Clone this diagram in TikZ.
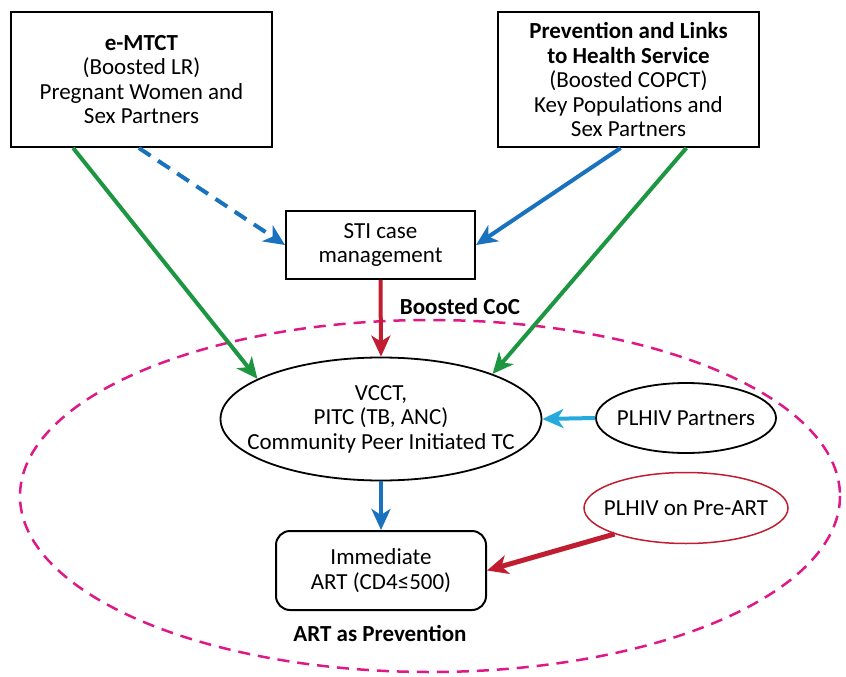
\documentclass[tikz,border=0pt]{standalone}
\usepackage{fontspec}
\setmainfont{Carlito}
\usetikzlibrary{arrows.meta,shapes.geometric,calc}
\definecolor{cgreen}{RGB}{28,150,64}
\definecolor{cblue}{RGB}{24,114,190}
\definecolor{clblue}{RGB}{38,170,222}
\definecolor{cred}{RGB}{192,30,48}
\definecolor{cmag}{RGB}{222,24,134}
\tikzset{
  every node/.style={font=\fontsize{23}{24.5}\selectfont, align=center, inner sep=0pt},
  every label/.style={font=\fontsize{23}{24.5}\selectfont, align=center, inner sep=0pt},
  box/.style={draw=black, line width=2pt, fill=white},
  ell/.style={draw=black, line width=1.8pt, ellipse, fill=white},
  arr/.style={line width=4pt, -{Stealth[length=21pt,width=19pt,inset=6pt]}},
  lbl/.style={font=\fontsize{23}{24.5}\selectfont\bfseries}
}
\begin{document}
\begin{tikzpicture}[x=1pt,y=-1pt]
\useasboundingbox (0,0) rectangle (846,677);
\fill[white] (0,0) rectangle (846,677);
% big dashed ellipse
\draw[cmag, line width=2.5pt, dash pattern=on 12pt off 8pt] (430,496) ellipse [x radius=410, y radius=176];

\node[box, minimum width=261pt, minimum height=135pt] (emtct) at (141.5,79.5)
  {\textbf{e-MTCT}\\(Boosted LR)\\Pregnant Women and\\Sex Partners};
\node[box, minimum width=261pt, minimum height=135pt] (prev) at (628.5,79.5)
  {\textbf{Prevention and Links}\\\textbf{to Health Service}\\(Boosted COPCT)\\Key Populations and\\Sex Partners};
\node[box, minimum width=189pt, minimum height=68pt] (sti) at (380.5,245)
  {STI case\\management};
\node[ell, minimum width=321pt, minimum height=123pt,
  label=center:{VCCT,\\PITC (TB, ANC)\\Community Peer Initiated TC}] (vcct) at (381,419) {};
\node[ell, minimum width=180pt, minimum height=70pt,
  label=center:{PLHIV Partners}] (partners) at (686,418) {};
\node[ell, draw=cred, line width=1.5pt, minimum width=204pt, minimum height=71pt,
  label=center:{PLHIV on Pre-ART}] (pre) at (686,508) {};
\node[box, rounded corners=14pt, minimum width=210pt, minimum height=79pt] (imm) at (381,570.5)
  {Immediate\\ART (CD4≤500)};
\node[lbl] (coc) at (460,307) {Boosted CoC};
\node[lbl] (artp) at (380,633) {ART as Prevention};

% connectors
\draw[arr, cgreen] ($(emtct.south west)!0.24!(emtct.south east)$) -- (vcct.162);
\draw[arr, cblue, dash pattern=on 14pt off 9pt] ($(emtct.south west)!0.49!(emtct.south east)$) -- (sti.west);
\draw[arr, cblue] ($(prev.south west)!0.47!(prev.south east)$) -- (sti.east);
\draw[arr, cgreen] ($(prev.south west)!0.72!(prev.south east)$) -- (vcct.22);
\draw[arr, cred] (sti.south) -- (vcct.north);
\draw[arr, clblue] (partners.west) -- (vcct.east);
\draw[arr, cblue] (vcct.south) -- (imm.north);
\draw[arr, cred, line width=5pt] (pre.200) -- (imm.east);
\end{tikzpicture}
\end{document}
